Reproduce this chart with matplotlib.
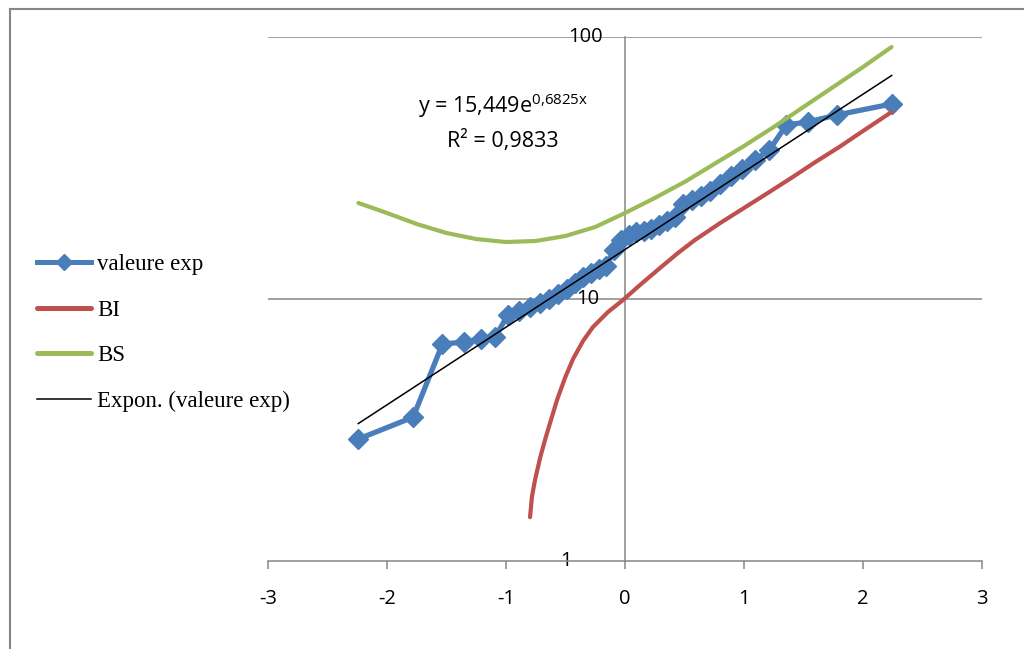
import numpy as np
import matplotlib
matplotlib.use("Agg")
import matplotlib.pyplot as plt
from matplotlib.lines import Line2D

# Normal scores (quantiles) of the 40 ranked observations
normal_scores = [-2.2414, -1.7805, -1.5341, -1.3563, -1.2133, -1.0916, -0.9842, -0.8871,
                 -0.7978, -0.7144, -0.6356, -0.5607, -0.4888, -0.4193, -0.3518, -0.2858,
                 -0.2211, -0.1573, -0.0941, -0.0313, 0.0313, 0.0941, 0.1573, 0.2211,
                 0.2858, 0.3518, 0.4193, 0.4888, 0.5607, 0.6356, 0.7144, 0.7978,
                 0.8871, 0.9842, 1.0916, 1.2133, 1.3563, 1.5341, 1.7805, 2.2414]
observed = [2.92, 3.54, 6.73, 6.85, 7.04, 7.16, 8.69, 9.00,
            9.32, 9.66, 10.0, 10.44, 10.92, 11.51, 12.13, 12.57,
            13.02, 13.37, 15.38, 16.80, 17.55, 18.02, 18.18, 18.50,
            19.16, 19.85, 20.56, 23.05, 23.87, 24.73, 25.84, 27.48,
            29.48, 31.34, 33.93, 37.05, 46.15, 47.38, 50.39, 55.51]

# Lower bound (BI)
bi_x = [-0.798, -0.782, -0.756, -0.714, -0.672, -0.630, -0.571, -0.504, -0.437, -0.353,
        -0.269, -0.143, -0.017, 0.126, 0.294, 0.445, 0.588, 0.80, 1.00, 1.20,
        1.41, 1.60, 1.80, 2.00, 2.24]
bi_y = [1.47, 1.76, 2.04, 2.47, 2.90, 3.36, 4.12, 5.00, 5.90, 6.91,
        7.82, 8.92, 9.91, 11.31, 13.13, 14.98, 16.80, 19.50, 22.25, 25.39,
        29.22, 33.33, 38.02, 43.78, 51.72]

# Upper bound (BS)
bs_x = [-2.24, -2.0, -1.75, -1.5, -1.25, -1.0, -0.75, -0.5, -0.25, 0.0,
        0.25, 0.5, 0.75, 1.0, 1.25, 1.5, 1.75, 2.0, 2.24]
bs_y = [23.25, 21.29, 19.33, 17.86, 16.94, 16.50, 16.65, 17.40, 18.83, 21.29,
        24.29, 27.96, 32.76, 38.37, 45.35, 54.06, 64.46, 76.83, 91.56]

# Exponential trend y = a * exp(b x)
trend_a = 15.449
trend_b = 0.6825
trend_r2 = 0.9833

x_ticks = [-3, -2, -1, 0, 1, 2, 3]
y_ticks = [1, 10, 100]
y_tick_labels = ["1", "10", "100"]

BLUE = "#4A7EBB"
RED = "#C0504D"
GREEN = "#9BBB59"
GRAY = "#868686"
SANS = "Open Sans"

W, H = 1024, 649
fig = plt.figure(figsize=(W / 100, H / 100), dpi=100)
fig.patch.set_facecolor("white")

left, right, top, bottom = 268, 982, 37, 561
ax = fig.add_axes([left / W, 1 - bottom / H, (right - left) / W, (bottom - top) / H])
ax.set_yscale("log")
ax.set_xlim(-3, 3)
ax.set_ylim(1, 100)

# gridlines at the decades
for yv in y_ticks[1:]:
    ax.axhline(yv, color=GRAY, lw=1.1, zorder=1)

ax.spines["top"].set_visible(False)
ax.spines["right"].set_visible(False)
ax.spines["left"].set_position(("data", 0))
for s in ("left", "bottom"):
    ax.spines[s].set_color(GRAY)
    ax.spines[s].set_linewidth(1.1)

ax.set_xticks(x_ticks)
ax.set_xticklabels([str(v) for v in x_ticks])
ax.tick_params(axis="x", direction="out", length=6, width=1.1, color=GRAY,
               labelsize=14.5, pad=14)
ax.set_yticks(y_ticks)
ax.set_yticklabels([])
ax.yaxis.set_minor_locator(matplotlib.ticker.NullLocator())
ax.tick_params(axis="y", length=0)
for lab in ax.get_xticklabels():
    lab.set_fontfamily(SANS)

# y labels placed beside the central axis
y_label_x = [-0.5, -0.31, -0.33]
for xv, yv, txt in zip(y_label_x, y_ticks, y_tick_labels):
    ax.text(xv, yv, txt, ha="center", va="center", fontsize=14.5, family=SANS, zorder=2)

ax.plot(normal_scores, observed, color=BLUE, lw=3.8, marker="D", markersize=10.5,
        markerfacecolor=BLUE, markeredgecolor=BLUE, label="valeure exp", zorder=3)
ax.plot(bi_x, bi_y, color=RED, lw=3.0, solid_capstyle="round", solid_joinstyle="round",
        label="BI", zorder=4)
ax.plot(bs_x, bs_y, color=GREEN, lw=3.0, solid_capstyle="round", solid_joinstyle="round",
        label="BS", zorder=4)

tx = np.linspace(min(normal_scores), max(normal_scores), 200)
ax.plot(tx, trend_a * np.exp(trend_b * tx), color="black", lw=1.1,
        label="Expon. (valeure exp)", zorder=5)

plt.rcParams["mathtext.fontset"] = "custom"
plt.rcParams["mathtext.rm"] = SANS
eq = "y = " + f"{trend_a:.3f}".replace(".", ",") + "e$^{\\mathregular{" + \
     f"{trend_b:.4f}".replace(".", "{,}") + "x}}$"
fig.text(503 / W, 1 - 106 / H, eq, ha="center", va="center", fontsize=15.5, family=SANS)
fig.text(503 / W, 1 - 141 / H, "R² = " + f"{trend_r2:.4f}".replace(".", ","),
         ha="center", va="center", fontsize=15.5, family=SANS)

# legend
handles = [
    Line2D([], [], color=BLUE, lw=3.6, marker="D", markersize=8),
    Line2D([], [], color=RED, lw=3.6, solid_capstyle="round"),
    Line2D([], [], color=GREEN, lw=3.6, solid_capstyle="round"),
    Line2D([], [], color="black", lw=1.1),
]
labels = ["valeure exp", "BI", "BS", "Expon. (valeure exp)"]
fig.legend(handles, labels, loc="upper left", bbox_to_anchor=(37 / W, 1 - 254 / H),
           frameon=False, prop={"family": "Liberation Serif", "size": 16.5},
           handlelength=2.36, handletextpad=0.26, labelspacing=1.07,
           borderpad=0, borderaxespad=0)

# outer chart-area frame (top and left edges)
fig.add_artist(Line2D([10 / W, 1.0], [1 - 9 / H, 1 - 9 / H], color=GRAY, lw=1.5,
                      transform=fig.transFigure))
fig.add_artist(Line2D([10 / W, 10 / W], [1 - 9 / H, 0.0], color=GRAY, lw=1.5,
                      transform=fig.transFigure))

fig.savefig("out.png", dpi=100)
